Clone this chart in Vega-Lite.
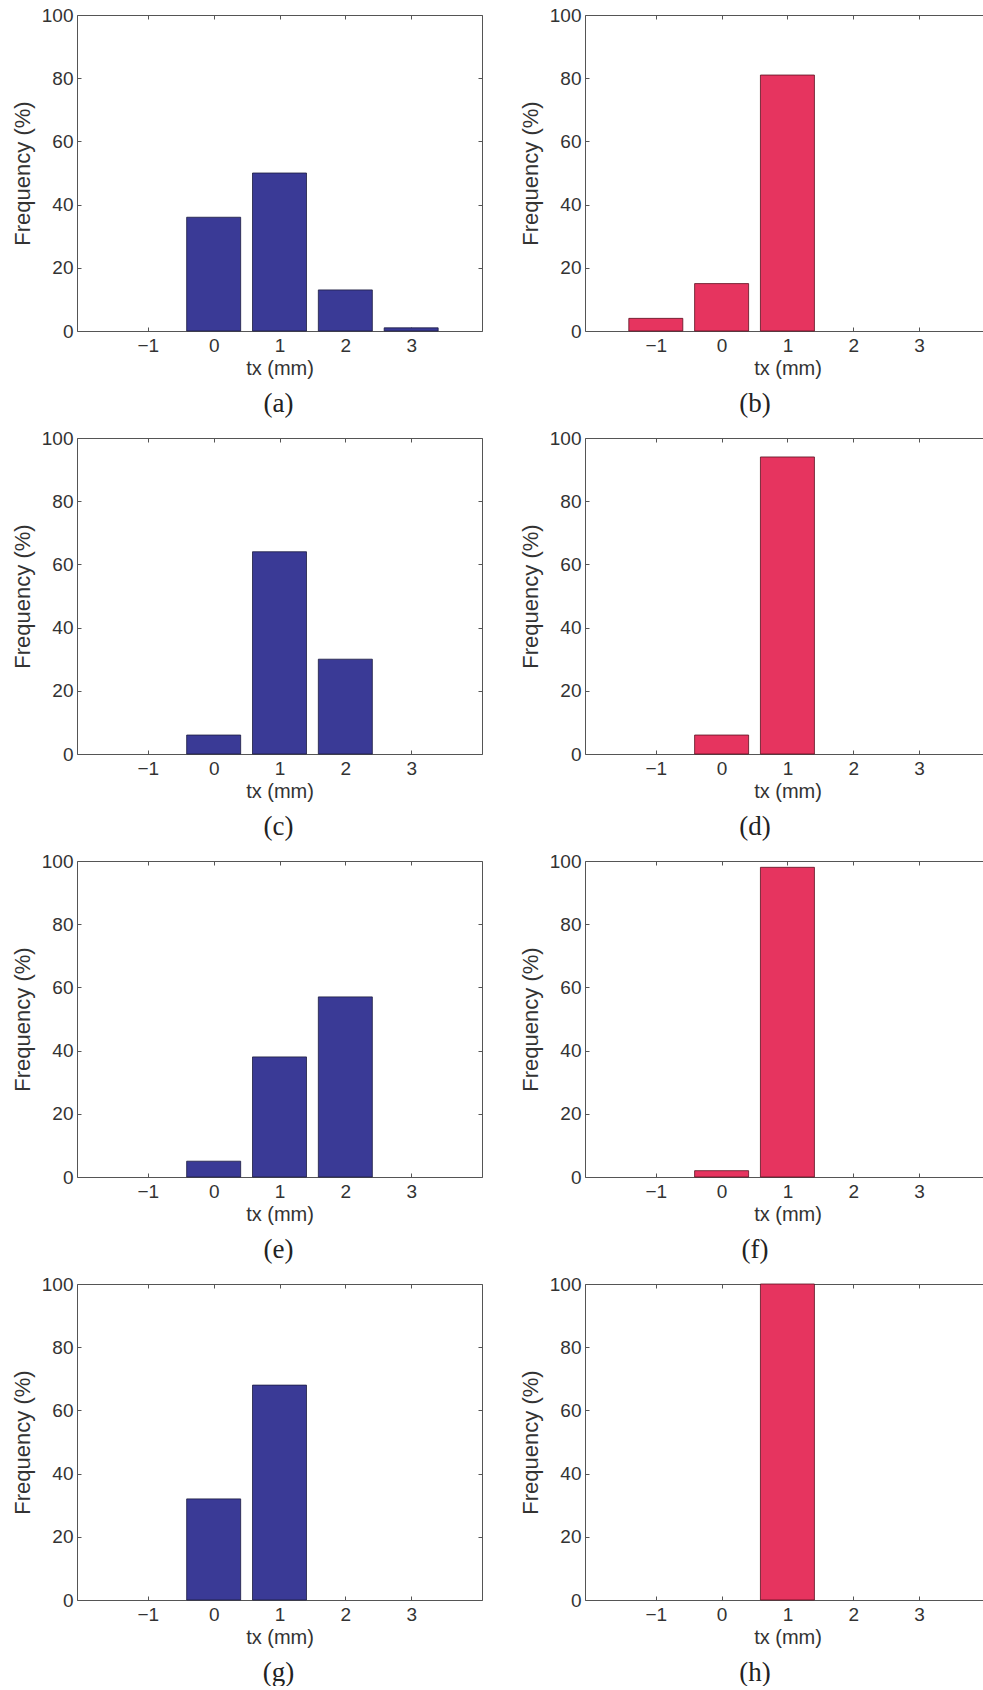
{
  "$schema": "https://vega.github.io/schema/vega-lite/v6.json",
  "background": "white",
  "padding": {"left": 11, "top": 6, "right": 0, "bottom": 0},
  "config": {
    "view": {"stroke": null},
    "axis": {
      "grid": false,
      "domainColor": "#555555",
      "domainWidth": 1,
      "tickColor": "#555555",
      "tickWidth": 1,
      "tickSize": -4,
      "labelFont": "Liberation Sans",
      "labelFontSize": 19,
      "labelColor": "#333333",
      "labelFlush": false,
      "labelOverlap": false,
      "titleFont": "Liberation Sans",
      "titleFontWeight": "normal",
      "titleColor": "#333333"
    },
    "title": {
      "font": "Liberation Serif",
      "fontSize": 27,
      "fontWeight": "normal",
      "color": "#222222",
      "orient": "bottom",
      "frame": "group",
      "anchor": "middle",
      "offset": 13
    }
  },
  "datasets": {
    "a": [{"tx": 0, "freq": 36}, {"tx": 1, "freq": 50}, {"tx": 2, "freq": 13}, {"tx": 3, "freq": 1}],
    "b": [{"tx": -1, "freq": 4}, {"tx": 0, "freq": 15}, {"tx": 1, "freq": 81}],
    "c": [{"tx": 0, "freq": 6}, {"tx": 1, "freq": 64}, {"tx": 2, "freq": 30}],
    "d": [{"tx": 0, "freq": 6}, {"tx": 1, "freq": 94}],
    "e": [{"tx": 0, "freq": 5}, {"tx": 1, "freq": 38}, {"tx": 2, "freq": 57}],
    "f": [{"tx": 0, "freq": 2}, {"tx": 1, "freq": 98}],
    "g": [{"tx": 0, "freq": 32}, {"tx": 1, "freq": 68}],
    "h": [{"tx": 1, "freq": 100}]
  },
  "columns": 2,
  "bounds": "flush",
  "spacing": {"row": 107, "column": 103},
  "concat": [
    {
      "data": {"name": "a"}, "width": 405, "height": 316,
      "title": {"text": "(a)", "dx": -1},
      "layer": [
        {"mark": {"type": "bar", "width": 54, "fill": "#3a3a96", "stroke": "#1c1c40", "strokeWidth": 0.8},
         "encoding": {
           "x": {"field": "tx", "type": "quantitative", "scale": {"domain": [-2, 4], "nice": false, "zero": false},
                 "axis": {"orient": "bottom", "values": [-1, 0, 1, 2, 3], "title": "tx (mm)", "titleFontSize": 20, "labelPadding": 9, "titlePadding": 3}},
           "y": {"field": "freq", "type": "quantitative", "stack": null, "scale": {"domain": [0, 100], "nice": false},
                 "axis": {"orient": "left", "values": [0, 20, 40, 60, 80, 100], "title": "Frequency (%)", "titleFontSize": 22, "labelPadding": 8, "titlePadding": 7}}
         }},
        {"mark": {"type": "bar", "width": 54, "opacity": 0},
         "encoding": {
           "x": {"field": "tx", "type": "quantitative", "axis": {"orient": "top", "values": [-1, 0, 1, 2, 3], "labels": false, "title": null}},
           "y": {"field": "freq", "type": "quantitative", "stack": null, "axis": {"orient": "right", "values": [0, 20, 40, 60, 80, 100], "labels": false, "title": null}}
         }}
      ],
      "resolve": {"axis": {"x": "independent", "y": "independent"}}
    },
    {
      "data": {"name": "b"}, "width": 398, "height": 316,
      "title": {"text": "(b)", "dx": -29},
      "layer": [
        {"mark": {"type": "bar", "width": 54, "fill": "#e6345f", "stroke": "#5a1020", "strokeWidth": 0.8},
         "encoding": {
           "x": {"field": "tx", "type": "quantitative", "scale": {"domain": [-2, 3.896], "nice": false, "zero": false},
                 "axis": {"orient": "bottom", "values": [-1, 0, 1, 2, 3], "title": "tx (mm)", "titleFontSize": 20, "labelPadding": 9, "titlePadding": 3, "titleX": 202.5}},
           "y": {"field": "freq", "type": "quantitative", "stack": null, "scale": {"domain": [0, 100], "nice": false},
                 "axis": {"orient": "left", "values": [0, 20, 40, 60, 80, 100], "title": "Frequency (%)", "titleFontSize": 22, "labelPadding": 8, "titlePadding": 7}}
         }},
        {"mark": {"type": "bar", "width": 54, "opacity": 0},
         "encoding": {
           "x": {"field": "tx", "type": "quantitative", "axis": {"orient": "top", "values": [-1, 0, 1, 2, 3], "labels": false, "title": null}},
           "y": {"field": "freq", "type": "quantitative", "stack": null, "axis": null}
         }}
      ],
      "resolve": {"axis": {"x": "independent", "y": "independent"}}
    },
    {
      "data": {"name": "c"}, "width": 405, "height": 316,
      "title": {"text": "(c)", "dx": -1},
      "layer": [
        {"mark": {"type": "bar", "width": 54, "fill": "#3a3a96", "stroke": "#1c1c40", "strokeWidth": 0.8},
         "encoding": {
           "x": {"field": "tx", "type": "quantitative", "scale": {"domain": [-2, 4], "nice": false, "zero": false},
                 "axis": {"orient": "bottom", "values": [-1, 0, 1, 2, 3], "title": "tx (mm)", "titleFontSize": 20, "labelPadding": 9, "titlePadding": 3}},
           "y": {"field": "freq", "type": "quantitative", "stack": null, "scale": {"domain": [0, 100], "nice": false},
                 "axis": {"orient": "left", "values": [0, 20, 40, 60, 80, 100], "title": "Frequency (%)", "titleFontSize": 22, "labelPadding": 8, "titlePadding": 7}}
         }},
        {"mark": {"type": "bar", "width": 54, "opacity": 0},
         "encoding": {
           "x": {"field": "tx", "type": "quantitative", "axis": {"orient": "top", "values": [-1, 0, 1, 2, 3], "labels": false, "title": null}},
           "y": {"field": "freq", "type": "quantitative", "stack": null, "axis": {"orient": "right", "values": [0, 20, 40, 60, 80, 100], "labels": false, "title": null}}
         }}
      ],
      "resolve": {"axis": {"x": "independent", "y": "independent"}}
    },
    {
      "data": {"name": "d"}, "width": 398, "height": 316,
      "title": {"text": "(d)", "dx": -29},
      "layer": [
        {"mark": {"type": "bar", "width": 54, "fill": "#e6345f", "stroke": "#5a1020", "strokeWidth": 0.8},
         "encoding": {
           "x": {"field": "tx", "type": "quantitative", "scale": {"domain": [-2, 3.896], "nice": false, "zero": false},
                 "axis": {"orient": "bottom", "values": [-1, 0, 1, 2, 3], "title": "tx (mm)", "titleFontSize": 20, "labelPadding": 9, "titlePadding": 3, "titleX": 202.5}},
           "y": {"field": "freq", "type": "quantitative", "stack": null, "scale": {"domain": [0, 100], "nice": false},
                 "axis": {"orient": "left", "values": [0, 20, 40, 60, 80, 100], "title": "Frequency (%)", "titleFontSize": 22, "labelPadding": 8, "titlePadding": 7}}
         }},
        {"mark": {"type": "bar", "width": 54, "opacity": 0},
         "encoding": {
           "x": {"field": "tx", "type": "quantitative", "axis": {"orient": "top", "values": [-1, 0, 1, 2, 3], "labels": false, "title": null}},
           "y": {"field": "freq", "type": "quantitative", "stack": null, "axis": null}
         }}
      ],
      "resolve": {"axis": {"x": "independent", "y": "independent"}}
    },
    {
      "data": {"name": "e"}, "width": 405, "height": 316,
      "title": {"text": "(e)", "dx": -1},
      "layer": [
        {"mark": {"type": "bar", "width": 54, "fill": "#3a3a96", "stroke": "#1c1c40", "strokeWidth": 0.8},
         "encoding": {
           "x": {"field": "tx", "type": "quantitative", "scale": {"domain": [-2, 4], "nice": false, "zero": false},
                 "axis": {"orient": "bottom", "values": [-1, 0, 1, 2, 3], "title": "tx (mm)", "titleFontSize": 20, "labelPadding": 9, "titlePadding": 3}},
           "y": {"field": "freq", "type": "quantitative", "stack": null, "scale": {"domain": [0, 100], "nice": false},
                 "axis": {"orient": "left", "values": [0, 20, 40, 60, 80, 100], "title": "Frequency (%)", "titleFontSize": 22, "labelPadding": 8, "titlePadding": 7}}
         }},
        {"mark": {"type": "bar", "width": 54, "opacity": 0},
         "encoding": {
           "x": {"field": "tx", "type": "quantitative", "axis": {"orient": "top", "values": [-1, 0, 1, 2, 3], "labels": false, "title": null}},
           "y": {"field": "freq", "type": "quantitative", "stack": null, "axis": {"orient": "right", "values": [0, 20, 40, 60, 80, 100], "labels": false, "title": null}}
         }}
      ],
      "resolve": {"axis": {"x": "independent", "y": "independent"}}
    },
    {
      "data": {"name": "f"}, "width": 398, "height": 316,
      "title": {"text": "(f)", "dx": -29},
      "layer": [
        {"mark": {"type": "bar", "width": 54, "fill": "#e6345f", "stroke": "#5a1020", "strokeWidth": 0.8},
         "encoding": {
           "x": {"field": "tx", "type": "quantitative", "scale": {"domain": [-2, 3.896], "nice": false, "zero": false},
                 "axis": {"orient": "bottom", "values": [-1, 0, 1, 2, 3], "title": "tx (mm)", "titleFontSize": 20, "labelPadding": 9, "titlePadding": 3, "titleX": 202.5}},
           "y": {"field": "freq", "type": "quantitative", "stack": null, "scale": {"domain": [0, 100], "nice": false},
                 "axis": {"orient": "left", "values": [0, 20, 40, 60, 80, 100], "title": "Frequency (%)", "titleFontSize": 22, "labelPadding": 8, "titlePadding": 7}}
         }},
        {"mark": {"type": "bar", "width": 54, "opacity": 0},
         "encoding": {
           "x": {"field": "tx", "type": "quantitative", "axis": {"orient": "top", "values": [-1, 0, 1, 2, 3], "labels": false, "title": null}},
           "y": {"field": "freq", "type": "quantitative", "stack": null, "axis": null}
         }}
      ],
      "resolve": {"axis": {"x": "independent", "y": "independent"}}
    },
    {
      "data": {"name": "g"}, "width": 405, "height": 316,
      "title": {"text": "(g)", "dx": -1},
      "layer": [
        {"mark": {"type": "bar", "width": 54, "fill": "#3a3a96", "stroke": "#1c1c40", "strokeWidth": 0.8},
         "encoding": {
           "x": {"field": "tx", "type": "quantitative", "scale": {"domain": [-2, 4], "nice": false, "zero": false},
                 "axis": {"orient": "bottom", "values": [-1, 0, 1, 2, 3], "title": "tx (mm)", "titleFontSize": 20, "labelPadding": 9, "titlePadding": 3}},
           "y": {"field": "freq", "type": "quantitative", "stack": null, "scale": {"domain": [0, 100], "nice": false},
                 "axis": {"orient": "left", "values": [0, 20, 40, 60, 80, 100], "title": "Frequency (%)", "titleFontSize": 22, "labelPadding": 8, "titlePadding": 7}}
         }},
        {"mark": {"type": "bar", "width": 54, "opacity": 0},
         "encoding": {
           "x": {"field": "tx", "type": "quantitative", "axis": {"orient": "top", "values": [-1, 0, 1, 2, 3], "labels": false, "title": null}},
           "y": {"field": "freq", "type": "quantitative", "stack": null, "axis": {"orient": "right", "values": [0, 20, 40, 60, 80, 100], "labels": false, "title": null}}
         }}
      ],
      "resolve": {"axis": {"x": "independent", "y": "independent"}}
    },
    {
      "data": {"name": "h"}, "width": 398, "height": 316,
      "title": {"text": "(h)", "dx": -29},
      "layer": [
        {"mark": {"type": "bar", "width": 54, "fill": "#e6345f", "stroke": "#5a1020", "strokeWidth": 0.8},
         "encoding": {
           "x": {"field": "tx", "type": "quantitative", "scale": {"domain": [-2, 3.896], "nice": false, "zero": false},
                 "axis": {"orient": "bottom", "values": [-1, 0, 1, 2, 3], "title": "tx (mm)", "titleFontSize": 20, "labelPadding": 9, "titlePadding": 3, "titleX": 202.5}},
           "y": {"field": "freq", "type": "quantitative", "stack": null, "scale": {"domain": [0, 100], "nice": false},
                 "axis": {"orient": "left", "values": [0, 20, 40, 60, 80, 100], "title": "Frequency (%)", "titleFontSize": 22, "labelPadding": 8, "titlePadding": 7}}
         }},
        {"mark": {"type": "bar", "width": 54, "opacity": 0},
         "encoding": {
           "x": {"field": "tx", "type": "quantitative", "axis": {"orient": "top", "values": [-1, 0, 1, 2, 3], "labels": false, "title": null}},
           "y": {"field": "freq", "type": "quantitative", "stack": null, "axis": null}
         }}
      ],
      "resolve": {"axis": {"x": "independent", "y": "independent"}}
    }
  ]
}
